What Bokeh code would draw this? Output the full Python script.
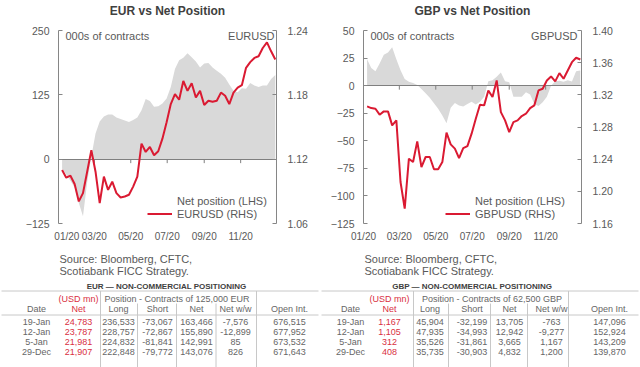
import pandas as pd
from bokeh.plotting import figure
from bokeh.models import Range1d, LinearAxis, FixedTicker, Label, Legend, LegendItem, PrintfTickFormatter
from bokeh.layouts import column, row
from bokeh.core.properties import value
from bokeh.embed import file_html
from bokeh.resources import INLINE

# ---------------- data ----------------
dates = pd.date_range("2020-01-07", periods=52, freq="7D")

eur_net = [-18, -30, -42, -55, -85, -111, -45, 5, 50, 73, 83, 87, 87, 81, 78, 75, 72, 76, 81, 95,
           117, 113, 102, 103, 108, 118, 140, 175, 192, 197, 206, 198, 190, 178, 186, 187, 178, 172, 166, 158,
           145, 133, 130, 138, 137, 148, 143, 140, 143.1, 143.0, 155.9, 163.5]
eur_usd = [1.1098, 1.1027, 1.1046, 1.0969, 1.0806, 1.0883, 1.1083, 1.1283, 1.1083, 1.0791,
           1.1037, 1.0914, 1.0990, 1.0883, 1.0843, 1.0852, 1.0868, 1.0944, 1.1037, 1.1345,
           1.1267, 1.1314, 1.1237, 1.1274, 1.1391, 1.1544, 1.1714, 1.1806, 1.1754, 1.1929,
           1.1837, 1.1908, 1.1775, 1.1837, 1.1705, 1.1745, 1.1735, 1.1745, 1.1821, 1.1791,
           1.1714, 1.1821, 1.1867, 1.1890, 1.2052, 1.2105, 1.2144, 1.2160, 1.2237, 1.2289,
           1.2206, 1.2129]
gbp_net = [24, 16, 13, 20, 28, 30, 34.7, 24, 14, 6, 3.5, 2.4, 0.5, -3, -7, -11, -16, -21, -27, -34,
           -20, -15.7, -18, -19, -16.6, -14.5, -17, -14.5, -10, 4, 5, 8, 12, 4, 3, -10, -10, -10, -6, -8,
           -16.6, -18.5, -15, -10, 0, 4, 4.5, 3.5, 4.832, 3.665, 12.942, 13.705]
gbp_usd = [1.3056, 1.3035, 1.3027, 1.2953, 1.2994, 1.2994, 1.2820, 1.2882, 1.2116, 1.1785,
           1.2406, 1.2364, 1.2621, 1.2302, 1.2427, 1.2427, 1.2274, 1.2274, 1.2364, 1.2729,
           1.2584, 1.2531, 1.2414, 1.2538, 1.2563, 1.2717, 1.2903, 1.3077, 1.3069, 1.3255,
           1.3172, 1.3379, 1.2985, 1.2882, 1.2737, 1.2861, 1.2882, 1.2936, 1.2965, 1.3035,
           1.3069, 1.3255, 1.3276, 1.3379, 1.3429, 1.3367, 1.3470, 1.3400, 1.3503, 1.3606,
           1.3661, 1.3640]

month_starts = pd.to_datetime(["2020-01-01", "2020-03-01", "2020-05-01", "2020-07-01", "2020-09-01", "2020-11-01"])
month_labels = ["01/20", "03/20", "05/20", "07/20", "09/20", "11/20"]

eur_lhs_ticks = [-125, 0, 125, 250]
eur_rhs_ticks = [1.06, 1.12, 1.18, 1.24]
gbp_lhs_ticks = [-125, -100, -75, -50, -25, 0, 25, 50]
gbp_rhs_ticks = [1.16, 1.20, 1.24, 1.28, 1.32, 1.36, 1.40]

source_lines = ["Source: Bloomberg, CFTC,", "Scotiabank FICC Strategy."]
tbl_header = ["Date", "Net", "Long", "Short", "Net", "Net w/w", "Open Int."]
eur_rows = [
    ["19-Jan", "24,783", "236,533", "-73,067", "163,466", "-7,576", "676,515"],
    ["12-Jan", "23,787", "228,757", "-72,867", "155,890", "-12,899", "677,952"],
    ["5-Jan", "21,981", "224,832", "-81,841", "142,991", "85", "673,532"],
    ["29-Dec", "21,907", "222,848", "-79,772", "143,076", "826", "671,643"],
]
gbp_rows = [
    ["19-Jan", "1,167", "45,904", "-32,199", "13,705", "-763", "147,096"],
    ["12-Jan", "1,105", "47,935", "-34,993", "12,942", "-9,277", "152,924"],
    ["5-Jan", "312", "35,526", "-31,861", "3,665", "1,167", "143,209"],
    ["29-Dec", "408", "35,735", "-30,903", "4,832", "1,200", "139,870"],
]

# ---------------- style ----------------
FONT = "Liberation Sans"
TXT = "#595959"
TTXT = "#666666"
DARK = "#404040"
RED = "#DA1A32"
TRED = "#D9303F"
AREA = "#D9D9D9"
AXIS = "#868686"
ZERO = "#7F7F7F"
LINE = "#C8C8C8"

origin = pd.Timestamp("2020-01-01")
xd = list((dates - origin).days)
tick_days = list((month_starts - origin).days)
X0, X1 = 0, 365

TOP_H = 20     # title strip
CH_H = 226     # chart strip
BOT_H = 121    # source + tables strip
W = 640


def strip(h):
    f = figure(width=W, height=h, output_backend="svg", toolbar_location=None, title=None,
               x_range=Range1d(0, W), y_range=Range1d(h, 0), x_axis_type=None, y_axis_type=None,
               min_border=0)
    f.outline_line_color = None
    return f


def style_axis(ax, standoff):
    ax.axis_line_color = AXIS
    ax.major_tick_line_color = AXIS
    ax.major_tick_in = 4
    ax.major_tick_out = 0
    ax.minor_tick_line_color = None
    ax.major_label_text_font = FONT
    ax.major_label_text_font_size = "10.5px"
    ax.major_label_text_color = TXT
    ax.major_label_standoff = standoff


def make_chart(pair, net, px, lhs, lhs_ticks, rhs, rhs_ticks, xticks, cx0, fl, ft, fh, unit_pos, pair_pos, leg_loc):
    cw, fw = 320, 218
    p = figure(width=cw, height=CH_H, output_backend="svg", toolbar_location=None, title=None,
               x_range=Range1d(X0, X1), y_range=Range1d(*lhs),
               x_axis_type=None, y_axis_type=None,
               min_border_left=fl, min_border_top=ft,
               min_border_right=cw - fl - fw, min_border_bottom=CH_H - ft - fh)
    p.outline_line_color = None
    p.extra_y_ranges = {"rhs": Range1d(*rhs)}

    ax_l = LinearAxis(ticker=FixedTicker(ticks=lhs_ticks))
    style_axis(ax_l, 9)
    p.add_layout(ax_l, "left")
    ax_r = LinearAxis(y_range_name="rhs", ticker=FixedTicker(ticks=rhs_ticks),
                      formatter=PrintfTickFormatter(format="%.2f"))
    style_axis(ax_r, 11)
    p.add_layout(ax_r, "right")
    ax_b = LinearAxis(ticker=FixedTicker(ticks=xticks),
                      major_label_overrides=dict(zip(xticks, month_labels)))
    style_axis(ax_b, 7)
    ax_b.major_label_text_font_size = "10px"
    ax_b.axis_line_color = None
    ax_b.major_tick_line_color = None
    p.add_layout(ax_b, "below")

    p.varea(x=xd, y1=0, y2=net, fill_color=AREA)
    p.hspan(y=[0], line_color=ZERO, line_width=1.2)
    tl = 4 * (lhs[1] - lhs[0]) / fh
    p.segment(x0=tick_days[1:], y0=[0] * 5, x1=tick_days[1:], y1=[-tl] * 5, line_color=ZERO, line_width=1)
    red = p.line(x=xd, y=px, y_range_name="rhs", line_color=RED, line_width=2)
    dummy = p.line(x=[], y=[], line_color=AREA, line_width=6)

    leg = Legend(items=[LegendItem(label="Net position (LHS)", renderers=[dummy]),
                        LegendItem(label=pair + " (RHS)", renderers=[red])],
                 location=leg_loc, glyph_width=25, glyph_height=13, label_height=13,
                 label_standoff=5, spacing=0, padding=0, margin=0,
                 border_line_color=None, background_fill_alpha=0,
                 label_text_font=FONT, label_text_font_size="11px", label_text_color=TXT)
    p.add_layout(leg)

    def lab(rx, ry, text, align):
        cx, cy = rx - cx0, ry - TOP_H
        x = X0 + (cx - fl) / fw * (X1 - X0)
        y = lhs[1] - (cy - ft) / fh * (lhs[1] - lhs[0])
        p.add_layout(Label(x=x, y=y, text=text, text_align=align, text_baseline="middle",
                           text_font=FONT, text_font_size="11px", text_color=TXT))

    lab(unit_pos[0], unit_pos[1], "000s of contracts", "left")
    lab(pair_pos[0], pair_pos[1], pair, "right")
    return p


# chart frames (reference pixels): EUR x 58-276, y 29-224 ; GBP x 363-581, y 30-223
p_eur = make_chart("EURUSD", eur_net, eur_usd, (-125, 250), eur_lhs_ticks, (1.06, 1.24), eur_rhs_ticks,
                   [14] + tick_days[1:], 0, 58, 29 - TOP_H, 195, (65, 34.5), (274, 34.5), (89, 3))
p_gbp = make_chart("GBPUSD", gbp_net, gbp_usd, (-125, 50), gbp_lhs_ticks, (1.16, 1.40), gbp_rhs_ticks,
                   tick_days, 320, 43, 30 - TOP_H, 193, (370, 35), (577, 35), (82, 3))

# ---------------- title strip ----------------
top = strip(TOP_H)
top.text(x=[167, 472], y=[10.5, 10.5], text=["EUR vs Net Position", "GBP vs Net Position"],
         text_font=value(FONT), text_font_size=value("12px"), text_font_style="bold",
         text_color=DARK, text_align="center", text_baseline="middle")

# ---------------- source + tables strip ----------------
t = strip(BOT_H)
Y0 = CH_H + TOP_H
t.text(x=[59, 59, 364, 364], y=[258.5 - Y0, 270.5 - Y0] * 2, text=source_lines * 2,
       text_font=value(FONT), text_font_size=value("11px"), text_color=TXT,
       text_align="left", text_baseline="middle")

TF = "9px"


def draw_table(ox, title, hdr1, rows, col_x, line_x, title_x, hdr1_x):
    X = lambda rx: ox + rx
    Y = lambda ry: ry - Y0
    t.segment(x0=[X(1), X(1)], y0=[Y(290.5), Y(314.5)], x1=[X(318), X(318)], y1=[Y(290.5), Y(314.5)],
              line_color=LINE, line_width=1)
    full = [line_x[0], line_x[-1]]
    inner = line_x[1:-1]
    t.segment(x0=[X(v) for v in full], y0=[Y(290.5)] * 2, x1=[X(v) for v in full], y1=[BOT_H] * 2,
              line_color=LINE, line_width=1)
    t.segment(x0=[X(v) for v in inner], y0=[Y(303)] * 3, x1=[X(v) for v in inner], y1=[BOT_H] * 3,
              line_color=LINE, line_width=1)
    t.text(x=[X(title_x)], y=[Y(286)], text=[title], text_font=value(FONT), text_font_size=value("8px"),
           text_font_style="bold", text_color=DARK, text_align="center", text_baseline="middle")
    t.text(x=[X(col_x[1]), X(hdr1_x)], y=[Y(298), Y(298)], text=["(USD mn)", hdr1],
           text_font=value(FONT), text_font_size=value(TF), text_color=[TRED, TTXT],
           text_align="center", text_baseline="middle")
    t.text(x=[X(c) for c in col_x], y=[Y(308)] * 7, text=tbl_header,
           text_font=value(FONT), text_font_size=value(TF),
           text_color=[TTXT, TRED] + [TTXT] * 5, text_align="center", text_baseline="middle")
    xs, ys, ts, cs = [], [], [], []
    for i, r in enumerate(rows):
        for j, s in enumerate(r):
            xs.append(X(col_x[j]))
            ys.append(Y(321.5 + 10 * i))
            ts.append(s)
            cs.append(TRED if j == 1 else TTXT)
    t.text(x=xs, y=ys, text=ts, text_font=value(FONT), text_font_size=value(TF),
           text_color=cs, text_align="center", text_baseline="middle")


draw_table(0, "EUR \u2014 NON-COMMERCIAL POSITIONING", "Position - Contracts of 125,000 EUR", eur_rows,
           [36, 78, 118, 157, 196, 235, 289], [100, 137, 176, 215.5, 256], 166, 176.5)
draw_table(320, "GBP \u2014 NON-COMMERCIAL POSITIONING", "Position - Contracts of 62,500 GBP", gbp_rows,
           [30, 69, 109.5, 151.5, 189, 231, 289], [93, 128, 170, 207, 248], 151.7, 171.5)

layout = column(top, row(p_eur, p_gbp), t)
open("out.html", "w").write(file_html(layout, INLINE))
